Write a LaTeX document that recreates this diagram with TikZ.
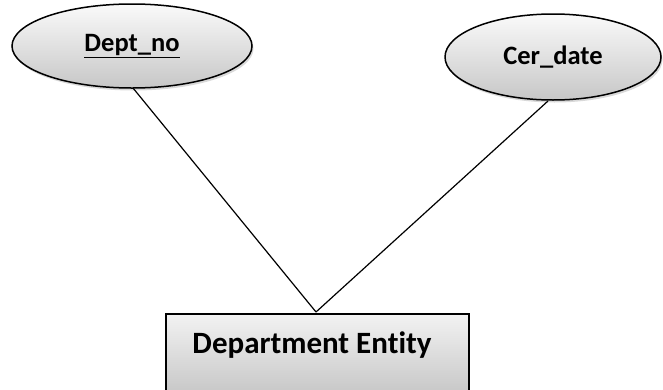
\documentclass[tikz,border=0pt]{standalone}
\usepackage{fontspec}
\setmainfont[Ligatures=NoCommon]{Carlito}
\usetikzlibrary{shapes.geometric,shadows}
\begin{document}
\begin{tikzpicture}[x=1pt,y=-1pt,
  attr/.style={ellipse, draw=black, line width=1.5pt, top color=black!2, bottom color=black!22,
    drop shadow={opacity=0.3, shadow xshift=1.5pt, shadow yshift=-2.5pt}, font=\bfseries\fontsize{26.5}{31}\selectfont, inner sep=0pt},
  entity/.style={draw=black, line width=1.5pt, top color=black!5, bottom color=black!24,
    drop shadow={opacity=0.3, shadow xshift=1.5pt, shadow yshift=-2.5pt}, inner sep=0pt},
  label/.style={font=\bfseries\fontsize{31}{36}\selectfont},
  link/.style={line width=1.2pt}]
\useasboundingbox (0,0) rectangle (663,389);
\node[attr, minimum width=240pt, minimum height=84pt] (dno) at (132,46) {\underline{Dept\_no}};
\node[attr, minimum width=216pt, minimum height=86pt] (cer) at (553,57) {Cer\_date};
\node[entity, minimum width=303pt, minimum height=90pt, anchor=north west] (dep) at (165,313) {};
\node[label] (deptxt) at (312,345) {Department Entity};
\coordinate (top) at (316,312);
\coordinate (dnoend) at (133,88);
\coordinate (cerend) at (548,101);
\draw[link] (dnoend) -- (top);
\draw[link] (cerend) -- (top);
\end{tikzpicture}
\end{document}
